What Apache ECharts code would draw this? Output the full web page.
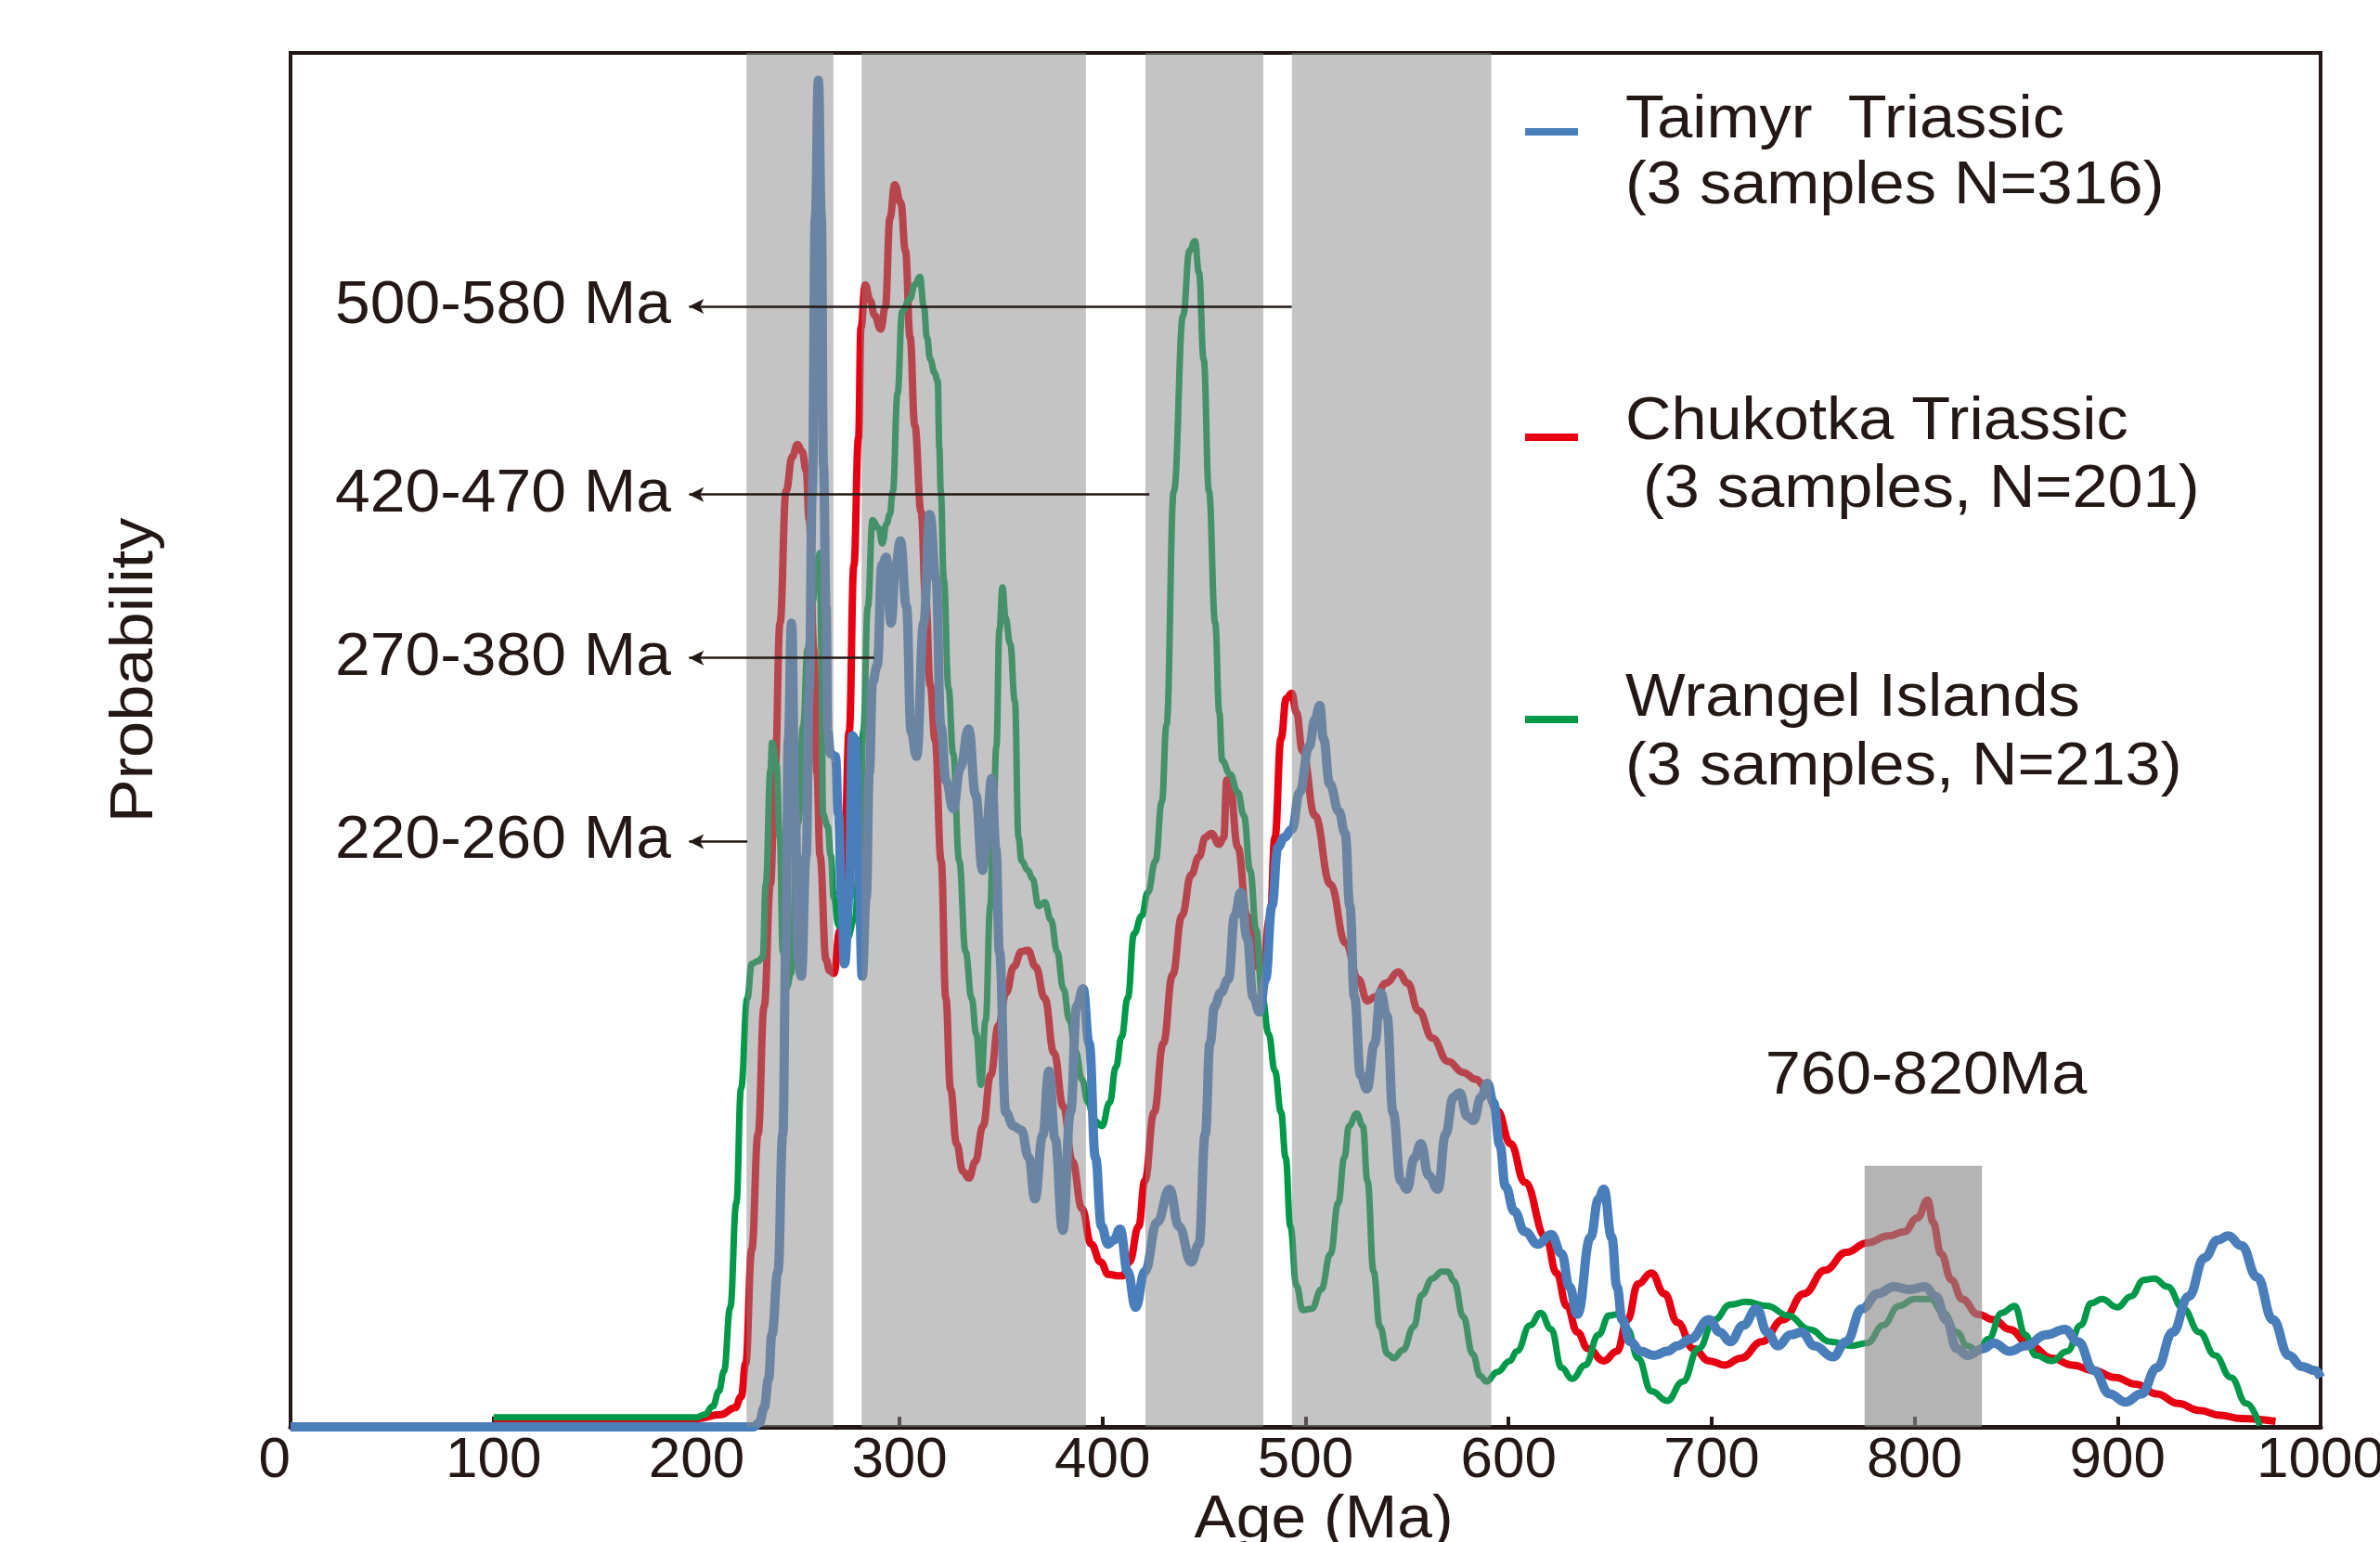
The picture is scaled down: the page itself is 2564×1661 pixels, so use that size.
<!DOCTYPE html>
<html>
<head>
<meta charset="utf-8">
<script src="https://cdn.jsdelivr.net/npm/echarts@6/dist/echarts.min.js"></script>
<style>
html,body{margin:0;padding:0;background:#ffffff;}
#chart{width:2564px;height:1661px;}
</style>
</head>
<body>
<div id="chart"></div>
<script>
// ---------------- DATA ----------------
const xTickValues = [0,100,200,300,400,500,600,700,800,900,1000];

// Taimyr Triassic (blue) : [age Ma, relative probability]
const taimyr = [
[0,0],[100,0],[200,0],[228,0],[231,0.3],[233.3,1.4],[235.5,3.5],[237.1,6.7],[240.1,11.3],[242.5,21.3],[244,34.6],[245.2,50],[246.8,58.5],[248.6,44.6],[250.1,34],[251.6,32.8],[254,41.6],[255.5,53.6],[257,68],[258.5,88],[260,98],[261.5,88],[262.5,70],[263.8,59.7],[264.6,50.6],[266,49],[268.4,48.8],[269.9,44.6],[271.4,38.5],[272.9,33.7],[275.2,38.5],[276.7,50.3],[278.3,50],[279.8,41.6],[281.6,32.8],[283.6,38.5],[285.1,47.6],[286.7,54.2],[289,55.4],[291.3,62.7],[293.5,63.3],[295.8,58.5],[298.1,62.7],[300.4,64.5],[303.4,59.7],[305.7,50.6],[308.4,48.8],[311.9,58.5],[314.9,66.4],[318,61.7],[320.3,51],[323,47],[326.4,45],[330,48],[334,50.8],[337.5,46],[340.9,40.5],[343,44],[345.4,47.2],[347.5,42],[349.2,34.6],[352.3,22.9],[356.1,21.9],[359.9,21.6],[363.7,19.6],[366.7,16.6],[370.5,21.2],[373.6,25.9],[376.6,21],[380.4,14.3],[384.2,22.9],[387.3,30.6],[390.4,31.9],[393.4,27.9],[396.5,19.6],[399.5,14.6],[402.6,13.3],[405.6,13.6],[408.6,14.4],[412.4,11.3],[416.3,8.7],[420.8,11.3],[426.9,14.9],[433,17.3],[437.6,14.6],[443.7,12],[447.5,13.3],[450.6,21.3],[452.9,27.9],[455.2,30.6],[458.2,31.6],[462,32.6],[465.1,37.2],[468.1,38.9],[471.2,35.6],[474.2,31.3],[477.3,30.2],[480.3,32.6],[483.4,37.9],[486.4,42.2],[489.5,42.9],[493.3,43.5],[497.1,46.2],[501.7,49.5],[504.7,51.5],[507,52.5],[508.8,50.1],[511.9,46.8],[516.4,44.8],[519.5,43.2],[521.8,37.9],[524.1,31.3],[527.1,25.6],[530.2,24.6],[534,27.9],[537,31.6],[540.1,29.9],[543.1,22.9],[546.9,17.9],[549.9,17.3],[553.7,19.6],[556.8,20.6],[560.6,18.3],[565.2,17.3],[569,21.3],[572.8,24],[575.9,24.3],[579.7,22.6],[582.7,22.3],[586.5,24],[589.6,25],[592.6,23.6],[595.7,20.5],[598.5,17.5],[602.8,15.7],[608,14.2],[614.5,13.3],[621,14.0],[626.1,12.6],[630,10.2],[633.9,8.2],[640.4,13.8],[644.3,16.6],[646.9,17.3],[650.8,13.8],[653.4,10.2],[656,7.8],[659.9,6.2],[665.1,5.5],[671.6,5.2],[678.1,5.5],[683.2,5.9],[689.7,6.4],[698.8,7.8],[704,6.9],[709.2,6.2],[715.7,7.4],[722.2,8.6],[727.4,6.9],[732.6,5.9],[739,6.7],[744.2,6.9],[750.7,5.9],[759.8,5.1],[766.3,6.2],[774.1,8.6],[781.9,9.7],[789.7,10.2],[797.4,10.0],[805.2,10.2],[810.4,9.5],[815.6,7.8],[820.8,5.7],[826,5.2],[833.8,5.7],[839,6.1],[846.8,5.5],[854.5,5.9],[864.9,6.7],[874,7.1],[880.5,6.2],[888.3,4.1],[896.1,2.4],[903.9,1.8],[911.6,2.4],[919.4,4.3],[927.2,6.9],[935,9.5],[942.8,12.3],[949.3,13.6],[954.5,13.9],[961,13.2],[968.7,10.9],[976.5,7.8],[984.3,5.2],[990.8,4.4],[997.3,4.1],[1000,3.6]
];

// Chukotka Triassic (red)
const chukotka = [
[100,0.5],[200,0.6],[212,0.9],[219,1.4],[222,2.2],[224.2,4.6],[227.2,12.9],[230.3,21.3],[233.3,30.6],[236.4,39.5],[238.7,47.8],[241.1,58.5],[244.1,68.1],[247.1,70.6],[249.7,71.5],[252,71],[254,69.6],[255.5,66],[257.8,56.6],[259.3,47.6],[260.8,41.6],[263.8,34],[265.5,33.2],[267.6,33],[270.6,36.1],[273,43],[275.2,50.6],[277.5,62.7],[279.8,72],[281,80],[283.1,83.1],[285.5,82],[287.7,80.9],[290.7,79.9],[293,81.5],[295.3,88],[297.6,90.4],[300.6,89.1],[302.9,85.6],[305.2,79.3],[307.5,72.9],[310.6,66.6],[312.9,60.2],[315.1,54],[317.5,50],[320.5,41.2],[322.8,31.2],[325.1,24.6],[328.1,20.6],[331.2,18.6],[334.2,18.1],[337.3,19.3],[341.1,21.9],[344.9,25.6],[348.7,29.2],[352.5,31.6],[356.3,33.5],[360.1,34.6],[363.2,34.7],[367,33.5],[371.5,31.2],[376.1,27.2],[380.7,23.3],[385.2,19.3],[389.8,15.9],[394.4,13.3],[399,12],[402.8,11.1],[407.5,11.0],[410,11.0],[413.2,12],[417.8,14.6],[420.8,17.9],[425.4,22.9],[429.9,27.9],[434.5,32.9],[439.1,37.2],[443.7,40.2],[447.5,41.5],[450.6,42.9],[453.6,43.2],[457.4,42.4],[459.7,42.9],[461.2,47.1],[462.8,46.5],[466.6,42.2],[471.2,37.2],[475.7,33.5],[478.7,33.2],[482.6,37.2],[484.9,42.9],[487.9,50.1],[490.5,53],[493.2,53.4],[495.5,52],[498.5,49.2],[504.6,44.5],[512.2,39.5],[519.8,35.2],[525.9,32.6],[530.5,31.0],[534.3,31.3],[539.6,32.3],[545.7,33.1],[550.3,32.3],[555.6,30.3],[562.5,28.3],[570.1,26.6],[577.7,25.8],[583.8,25.3],[588.4,24.8],[594.5,23.0],[601,20.6],[608,17.8],[618.4,13.8],[623.6,11.2],[628.7,8.8],[633.9,6.9],[639.1,5.7],[646.9,4.8],[653.4,5.5],[658.6,7.8],[663.8,10.4],[670.3,11.2],[676.8,9.7],[683.2,7.6],[691,5.7],[698.8,4.8],[706.6,4.5],[714.4,5.0],[724.8,6.2],[735.2,7.8],[745.5,9.7],[755.9,11.4],[766.3,12.7],[776.7,13.4],[787.1,13.9],[794.9,14.2],[801.3,15.2],[806.5,16.5],[809.1,14.9],[813,12.6],[818.2,10.7],[823.4,9.3],[831.2,8.2],[839,7.8],[846.8,7.1],[857.1,5.9],[867.5,5.0],[877.9,4.5],[888.3,4.1],[898.7,3.6],[909,3.1],[919.4,2.4],[929.8,1.7],[940.2,1.2],[950.6,0.85],[960.9,0.6],[977.8,0.4]
];

// Wrangel Islands (green)
const wrangel = [
[100,0.7],[200,0.7],[204,0.9],[208,1.5],[211,2.6],[213.5,4.05],[216.6,8.7],[219.6,16.3],[221.9,24.6],[225,31.2],[227.2,33.7],[230.3,33.9],[232.6,34.2],[234.1,39.5],[236.4,47.8],[237.2,49.8],[239.4,48.2],[241,42.9],[242.5,34.6],[244.5,32],[246.5,33],[250.1,44],[252.5,51],[254.7,56.6],[257,60],[259.3,62.7],[260.8,63.6],[261.5,56.6],[262.3,44.6],[264.6,43.7],[266.1,41.6],[267.6,38.5],[270,36.5],[274,35.5],[278,37],[280.5,42],[282.1,50.6],[284.4,59.7],[286.7,66],[289.7,65.4],[291.5,64.3],[293.5,65.7],[295.2,66.4],[296.7,68.1],[299,75.2],[301.3,81.2],[305.1,82.1],[307.4,83.1],[310,83.7],[312,81.5],[313.5,79.3],[315.1,77.7],[317.3,76.7],[318.8,76.1],[319.6,71.3],[320.3,68.1],[321.8,61.7],[324.1,53.8],[326.4,49],[329.4,41.2],[332.5,34.6],[335.5,31.2],[337.8,28.6],[340.1,24.9],[342.4,29.6],[344.7,37.9],[346.2,44.5],[347.7,49.5],[349.2,58],[350.7,61.1],[352.2,58.9],[354.5,57],[356.8,52.8],[358.6,42.9],[360.1,41.2],[363.2,40.5],[365.5,39.9],[368.5,37.9],[371.5,38.2],[374.6,36.9],[377.6,34.6],[380.7,31.9],[383.7,29.6],[386.8,27.3],[389.8,25.3],[392.9,23.6],[395.9,22.3],[399.7,21.9],[403.5,23.6],[406.6,26.2],[409.4,28.4],[412.4,31.2],[415.5,35.9],[419.3,37.2],[422.3,38.9],[426.1,41.2],[429.2,45.5],[431.5,51.1],[435.1,68.1],[439.7,80.9],[442.8,85.6],[445.5,86.3],[447.5,84],[449.8,77.7],[452.4,68.1],[455.5,58.5],[457.5,52],[458.9,48.5],[462.8,47.5],[466.6,46.2],[469.6,44.5],[472.7,40.5],[475.7,36.2],[478.7,31.2],[481.8,28.6],[484.9,25.9],[487.9,22.9],[490.2,19.6],[492.5,14.6],[495.5,10.3],[498.6,8.5],[503.1,8.6],[507.7,10],[512.3,12.6],[516.1,16.3],[519.1,19.6],[521.4,21.9],[525.2,22.8],[528.2,21.9],[530.5,17.9],[533.5,11.3],[536.6,7.3],[540.4,5.3],[543.4,5.0],[548,5.6],[553.3,7.3],[557.2,9.6],[562.5,10.8],[567.1,11.3],[570.1,11.3],[573.1,10.6],[577.7,8],[582.3,5.3],[586.1,3.7],[589.1,3.3],[594.5,4.0],[600.6,4.8],[604.1,5.5],[610.6,7.4],[615.8,8.3],[621,7.1],[626.1,4.3],[631.3,3.5],[637.8,4.5],[644.3,6.7],[649.5,8.1],[653.4,8.2],[658.6,7.1],[663.8,5.0],[670.3,2.6],[678.1,1.9],[685.8,3.3],[693.6,5.7],[701.4,7.8],[709.2,8.9],[717,9.1],[727.4,8.8],[737.7,8.1],[748.1,7.1],[758.5,6.2],[768.9,5.9],[776.7,6.1],[784.5,7.4],[792.3,8.8],[800,9.3],[807.8,9.3],[814.3,8.3],[820.8,6.9],[826,5.9],[831.2,5.5],[836.4,6.4],[842.9,8.3],[849.3,8.8],[854.5,6.7],[859.7,5.2],[867.5,4.8],[875.3,5.5],[881.8,7.4],[887,9.0],[892.2,9.3],[899.9,8.7],[906.5,9.5],[913,10.7],[918.1,10.8],[924.6,10.2],[932.4,8.6],[940.2,6.9],[948,5.2],[955.8,3.6],[963.5,1.7],[970,0.1]
];

// Highlighted age ranges (Ma)
const bandRanges = [[224.6,267.4],[281.3,391.8],[421.1,479.2],[493.3,591.5]];
const bandDark = {from:775.4, to:833.2, top:19};

// Annotation arrows: label, probability level, arrow start (age), arrow tip (age)
const annotations = [
  {label:'500-580 Ma', level:81.55, start:493.2, tip:196.3},
  {label:'420-470 Ma', level:67.86, start:423.0, tip:196.3},
  {label:'270-380 Ma', level:55.97, start:287.5, tip:196.3},
  {label:'220-260 Ma', level:42.6,  start:225.0, tip:196.3}
];

const seriesNames = ['Chukotka Triassic','Wrangel Islands','Taimyr  Triassic'];

// ---------------- CHART ----------------
const FONT = '"Liberation Sans", Arial, Helvetica, sans-serif';
const TXT = '#231815';
const chart = echarts.init(document.getElementById('chart'), null, {renderer:'canvas'});

function txt(text, x, y, opts) {
  opts = opts || {};
  return {
    type:'text', x:x, y:y, z:100,
    scaleX: opts.scaleX || 1, scaleY: 1, rotation: opts.rotation || 0,
    silent:true,
    style:{
      text:text, fill:TXT,
      font: (opts.size||64) + 'px ' + FONT,
      textAlign: opts.align || 'left', align: opts.align || 'left',
      textVerticalAlign:'middle', verticalAlign:'middle'
    }
  };
}
function mark(y, color) {
  return {type:'rect', z:100, silent:true, shape:{x:1643, y:y-4, width:57, height:8}, style:{fill:color}};
}

const graphics = [
  txt('Probability', 146, 722, {rotation:Math.PI/2, align:'center', scaleX:1.1}),
  txt('Age (Ma)', 1426, 1638, {align:'center', scaleX:1.06}),
  mark(142, '#4a7ebb'),
  txt('Taimyr  Triassic', 1751, 130, {scaleX:1.07}),
  txt('(3 samples N=316)', 1751, 201, {scaleX:1.07}),
  mark(471, '#e60012'),
  txt('Chukotka Triassic', 1751, 455, {scaleX:1.07}),
  txt(' (3 samples, N=201)', 1751, 528, {scaleX:1.07}),
  mark(775, '#00994a'),
  txt('Wrangel Islands', 1751, 753, {scaleX:1.07}),
  txt('(3 samples, N=213)', 1751, 827, {scaleX:1.07}),
  txt('760-820Ma', 2075, 1160, {align:'center', scaleX:1.07})
];
// annotation labels (right aligned next to arrow tips)
const annoY = [330, 533, 709, 906];
annotations.forEach((a, i) => graphics.push(txt(a.label, 723, annoY[i], {align:'right', scaleX:1.06})));

const lineCommon = {
  type:'line', showSymbol:false, symbol:'none', smooth:0.45, smoothMonotone:'x',
  animation:false, silent:true
};

const option = {
  animation:false,
  backgroundColor:'#ffffff',
  grid:{left:313, right:64, top:57, bottom:124, show:true, borderColor:TXT, borderWidth:4,
        backgroundColor:'transparent', containLabel:false, outerBoundsMode:'none'},
  xAxis:{
    type:'value', min:0, max:1000, interval:100,
    axisLine:{show:true, onZero:false, lineStyle:{color:TXT, width:5}},
    axisTick:{show:true, inside:true, length:11, lineStyle:{color:TXT, width:4}},
    axisLabel:{show:true, fontSize:62, fontFamily:FONT, color:TXT, margin:6, showMinLabel:true, showMaxLabel:true,
      alignMinLabel:'right', hideOverlap:false,
      formatter: v => String(v)},
    splitLine:{show:false}
  },
  yAxis:{type:'value', min:0, max:100, show:false, splitLine:{show:false}},
  graphic: graphics,
  series:[
    Object.assign({}, lineCommon, {name:seriesNames[0], data:chukotka, z:2, lineStyle:{color:'#e60012', width:8}}),
    Object.assign({}, lineCommon, {name:seriesNames[1], data:wrangel,  z:3, lineStyle:{color:'#00994a', width:7}}),
    Object.assign({}, lineCommon, {name:seriesNames[2], data:taimyr,   z:4, lineStyle:{color:'#4a7ebb', width:10}}),
    {
      type:'line', name:'bands', data:[], z:10, silent:true,
      markArea:{
        silent:true, z:10,
        itemStyle:{color:'rgba(137,137,137,0.5)'},
        emphasis:{disabled:true},
        data: bandRanges.map(r => [{xAxis:r[0]}, {xAxis:r[1]}]).concat([
          [{xAxis:bandDark.from, yAxis:0, itemStyle:{color:'rgba(137,137,137,0.64)'}}, {xAxis:bandDark.to, yAxis:bandDark.top}]
        ])
      }
    },
    {
      type:'line', name:'arrows', data:[], z:20, silent:true,
      markLine:{
        silent:true, animation:false, z:20,
        symbol:['arrow','none'], symbolSize:[12,16],
        lineStyle:{color:TXT, width:2.5, type:'solid'},
        label:{show:false},
        emphasis:{disabled:true},
        data: annotations.map(a => [{coord:[a.tip, a.level]}, {coord:[a.start, a.level]}])
      }
    }
  ]
};
chart.setOption(option);
</script>
</body>
</html>
